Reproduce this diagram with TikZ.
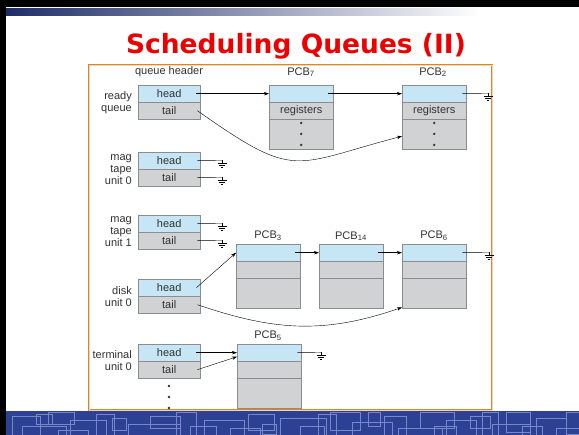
\documentclass[tikz,border=0pt]{standalone}
\usepackage{fontspec}
\setmainfont{Liberation Sans}
\newfontfamily\titlefont{DejaVu Sans}
\usepackage{tikz}
\usetikzlibrary{arrows.meta}

\definecolor{cellblue}{RGB}{198,230,246}
\definecolor{cellgray}{RGB}{208,210,212}
\definecolor{cellline}{RGB}{138,140,143}
\definecolor{framebrown}{RGB}{214,136,46}
\definecolor{bandblue}{RGB}{44,64,148}
\definecolor{bandline}{RGB}{118,134,198}
\definecolor{titlered}{RGB}{236,0,0}
\definecolor{inktext}{RGB}{50,50,50}

\tikzset{
    ground/.pic={
        \draw (0pt,0pt) -- (0pt,-2.5pt);
        \draw (-4.5pt,-2.5pt) -- (4.5pt,-2.5pt);
        \draw (-3pt,-4.5pt) -- (3pt,-4.5pt);
        \draw (-1.3pt,-6.5pt) -- (1.3pt,-6.5pt);
    }
}

\begin{document}
\begin{tikzpicture}[x=1pt,y=-1pt,>={Stealth[length=5pt,width=3.4pt]},
    lbl/.style={text=inktext,font=\fontsize{11}{12}\selectfont,inner sep=0pt},
    cell/.style={draw=cellline,minimum width=62pt,minimum height=17pt,inner sep=0pt,anchor=north west,lbl},
    headcell/.style={cell,fill=cellblue},
    tailcell/.style={cell,fill=cellgray},
    pcbtop/.style={cell,fill=cellblue,minimum width=64pt},
    pcbmid/.style={cell,fill=cellgray,minimum width=64pt},
    pcbrest/.style={cell,fill=cellgray,minimum width=64pt,minimum height=30pt}]
    \useasboundingbox (0,0) rectangle (579,435);
    \fill[white] (0,0) rectangle (579,435);
    \fill[black] (0,0) rectangle (579,7);
    \fill[black] (0,0) rectangle (6,435);
    \shade[left color=bandblue!70!black,right color=white] (6,9) rectangle (480,16);
    \fill[bandblue] (6,411) rectangle (579,435);
    \begin{scope}
        \clip (6,411) rectangle (579,435);
        \foreach \x/\y/\w/\h in {12/416/28/30,22/426/44/14,48/412/26/12,70/420/36/22,96/414/18/30,
            128/424/52/16,150/416/30/12,176/412/20/28,204/420/40/18,230/428/30/12,248/414/26/16,
            280/418/46/20,300/426/24/14,330/412/30/18,352/422/40/16,384/416/22/24,398/428/44/10,
            420/412/34/16,446/420/30/20,470/416/20/12,492/424/38/14,506/412/24/20,536/418/30/18,
            556/428/28/10,36/414/16/10,58/430/30/8,112/418/14/12,190/426/26/14,262/424/14/10,
            318/414/18/26,368/412/12/14,434/426/22/12,482/412/16/24,522/426/20/12,566/412/14/22}
            \draw[bandline,line width=0.6pt] (\x,\y) rectangle ++(\w,\h);
    \end{scope}
    \draw[draw=framebrown,double=framebrown!35,double distance=0.6pt,line width=0.7pt] (89,65) rectangle (492,410);

    \node[font=\titlefont\bfseries\fontsize{26.5}{30}\selectfont,text=titlered,anchor=base] at (296,54) (title) {Scheduling Queues (II)};

    \node[lbl] at (169,72) (qh) {queue header};
    \node[lbl] at (301,72) (l7) {PCB\textsubscript{7}};
    \node[lbl] at (433,72) (l2) {PCB\textsubscript{2}};
    \node[lbl] at (268,236) (l3) {PCB\textsubscript{3}};
    \node[lbl] at (351,236) (l14) {PCB\textsubscript{14}};
    \node[lbl] at (434,236) (l6) {PCB\textsubscript{6}};
    \node[lbl] at (268,336) (l5) {PCB\textsubscript{5}};

    \node[lbl,anchor=east,align=right] at (132,103) (rq) {ready\\queue};
    \node[lbl,anchor=east,align=right] at (132,170) (mt0) {mag\\tape\\unit 0};
    \node[lbl,anchor=east,align=right] at (132,232) (mt1) {mag\\tape\\unit 1};
    \node[lbl,anchor=east,align=right] at (132,297) (du) {disk\\unit 0};
    \node[lbl,anchor=east,align=right] at (132,361) (tu) {terminal\\unit 0};

    \node[headcell] at (138,85) (rh) {head};
    \node[tailcell] at (138,102) (rt) {tail};
    \node[headcell] at (138,152) (m0h) {head};
    \node[tailcell] at (138,169) (m0t) {tail};
    \node[headcell] at (138,215) (m1h) {head};
    \node[tailcell] at (138,232) (m1t) {tail};
    \node[headcell] at (138,279) (dh) {head};
    \node[tailcell] at (138,296) (dt) {tail};
    \node[headcell] at (138,344) (th) {head};
    \node[tailcell] at (138,361) (tt) {tail};

    \node[pcbtop] at (269,85) (p7a) {};
    \node[pcbmid] at (269,102) (p7b) {registers};
    \node[pcbrest] at (269,119) (p7c) {};
    \node[pcbtop] at (402,85) (p2a) {};
    \node[pcbmid] at (402,102) (p2b) {registers};
    \node[pcbrest] at (402,119) (p2c) {};
    \node[pcbtop] at (236,244) (p3a) {};
    \node[pcbmid] at (236,261) (p3b) {};
    \node[pcbrest] at (236,278) (p3c) {};
    \node[pcbtop] at (319,244) (p14a) {};
    \node[pcbmid] at (319,261) (p14b) {};
    \node[pcbrest] at (319,278) (p14c) {};
    \node[pcbtop] at (402,244) (p6a) {};
    \node[pcbmid] at (402,261) (p6b) {};
    \node[pcbrest] at (402,278) (p6c) {};
    \node[pcbtop] at (237,344) (p5a) {};
    \node[pcbmid] at (237,361) (p5b) {};
    \node[pcbrest] at (237,378) (p5c) {};

    \foreach \y in {123,134,145} {
        \fill[inktext] (p7c.north |- 0,\y) circle (1.3pt);
        \fill[inktext] (p2c.north |- 0,\y) circle (1.3pt);
    }
    \foreach \y in {386,397,408}
        \fill[inktext] (169,\y) circle (1.3pt);

    \draw ([xshift=-4pt]rh.east) edge[->] (p7a);
    \draw ([xshift=-5pt]p7a.east) edge[->] (p2a);
    \draw ([xshift=-3pt]rt.east) .. controls (297,181) and (292,165) .. ([yshift=-2pt]p2c.west) [->];
    \draw ([xshift=-4pt]dh.east) edge[->] (p3a.west);
    \draw ([xshift=-5pt]p3a.east) edge[->] (p14a);
    \draw ([xshift=-5pt]p14a.east) edge[->] (p6a);
    \draw ([xshift=-3pt]dt.east) .. controls (272,330) and (322,335) .. ([yshift=1pt]p6c.south west) [->];
    \draw ([xshift=-4pt]th.east) edge[->] (p5a);
    \draw ([xshift=-3pt]tt.east) edge[->] ([yshift=-4pt]p5a.west);

    \draw ([xshift=-4pt]p2a.east) -- (488,93.5) coordinate (g2) pic {ground};
    \draw ([xshift=-4pt]p6a.east) -- (489,252.5) coordinate (g6) pic {ground};
    \draw ([xshift=-4pt]p5a.east) -- (321,352.5) coordinate (g5) pic {ground};
    \draw ([xshift=-3pt]m0h.east) -- (222,160.5) coordinate (gm0h) pic {ground};
    \draw ([xshift=-3pt]m0t.east) -- (222,177.5) coordinate (gm0t) pic {ground};
    \draw ([xshift=-3pt]m1h.east) -- (222,223.5) coordinate (gm1h) pic {ground};
    \draw ([xshift=-3pt]m1t.east) -- (222,240.5) coordinate (gm1t) pic {ground};
\end{tikzpicture}
\end{document}
